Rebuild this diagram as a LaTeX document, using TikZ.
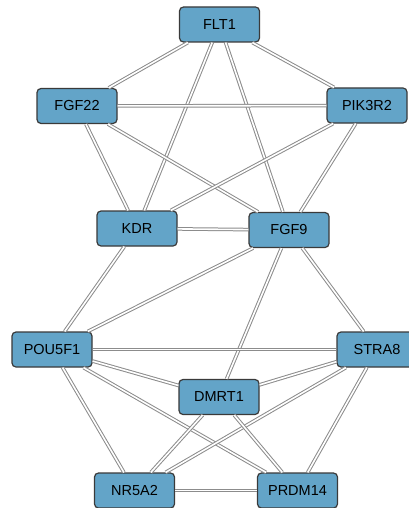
\documentclass[tikz,border=0pt]{standalone}
\usepackage{fontspec}
\setmainfont{Liberation Sans}
\definecolor{nodefill}{HTML}{63A4C8}
\definecolor{nodeborder}{HTML}{3A3A3A}
\definecolor{edgegray}{HTML}{8C8C8C}
\begin{document}
\begin{tikzpicture}[x=1pt,y=-1pt,
  gene/.style={draw=nodeborder,line width=1.2pt,fill=nodefill,rounded corners=4pt,
    minimum width=80pt,minimum height=35pt,inner sep=0pt,font=\fontsize{14.5}{16}\selectfont},
  link/.style={draw=edgegray,line width=1pt,double=white,double distance=1.6pt}]
\useasboundingbox (0,0) rectangle (409,508);
\fill[white] (0,0) rectangle (409,508);
\node[gene] (FLT1)   at (219.5,24.5) {FLT1};
\node[gene] (FGF22)  at (77,106) {FGF22};
\node[gene] (PIK3R2) at (367,105.5) {PIK3R2};
\node[gene] (KDR)    at (137,228.5) {KDR};
\node[gene] (FGF9)   at (289,230) {FGF9};
\node[gene] (POU5F1) at (52,349.5) {POU5F1};
\node[gene] (STRA8)  at (377,349.5) {STRA8};
\node[gene] (DMRT1)  at (219,397) {DMRT1};
\node[gene] (NR5A2)  at (134.5,490.5) {NR5A2};
\node[gene] (PRDM14) at (297.5,490.5) {PRDM14};
\foreach \a/\b in {FLT1/FGF22,FLT1/PIK3R2,FLT1/KDR,FLT1/FGF9,FGF22/PIK3R2,FGF22/KDR,FGF22/FGF9,
  PIK3R2/KDR,PIK3R2/FGF9,KDR/FGF9,KDR/POU5F1,FGF9/POU5F1,FGF9/DMRT1,FGF9/STRA8,
  POU5F1/STRA8,POU5F1/DMRT1,POU5F1/NR5A2,POU5F1/PRDM14,STRA8/DMRT1,STRA8/NR5A2,
  STRA8/PRDM14,DMRT1/NR5A2,DMRT1/PRDM14,NR5A2/PRDM14}
  \draw[link] (\a) -- (\b);
\end{tikzpicture}
\end{document}
